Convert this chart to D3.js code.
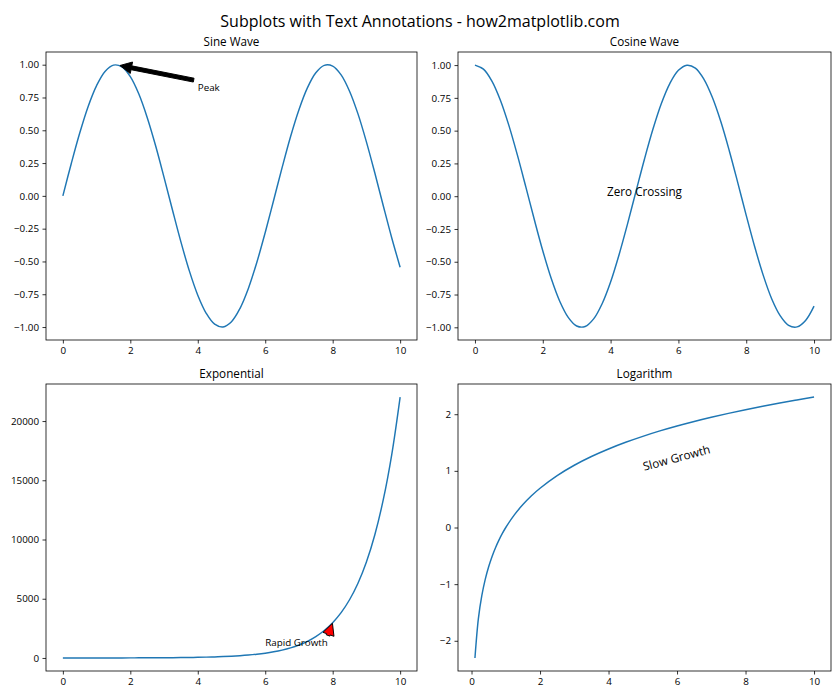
<!DOCTYPE html>
<html><head><meta charset="utf-8">
<script src="https://cdn.jsdelivr.net/npm/d3@7"></script>
<style>
body{margin:0;background:#fff}
svg{display:block}
text{font-family:"Open Sans","Noto Sans",sans-serif;fill:#000}
</style>
</head><body>
<svg id="chart" width="840" height="700"></svg>
<script>
// ---------- data ----------
const suptitle = "Subplots with Text Annotations - how2matplotlib.com";
const titles = ["Sine Wave", "Cosine Wave", "Exponential", "Logarithm"];

const xWave = [0,0.25,0.5,0.75,1,1.25,1.5,1.75,2,2.25,2.5,2.75,3,3.25,3.5,3.75,4,4.25,4.5,4.75,5,
  5.25,5.5,5.75,6,6.25,6.5,6.75,7,7.25,7.5,7.75,8,8.25,8.5,8.75,9,9.25,9.5,9.75,10];
const sineY = [0,0.247,0.479,0.682,0.841,0.949,0.997,0.984,0.909,0.778,0.598,0.382,0.141,-0.108,-0.351,
  -0.572,-0.757,-0.895,-0.978,-0.999,-0.959,-0.859,-0.706,-0.508,-0.279,-0.033,0.215,0.451,0.657,0.823,
  0.938,0.995,0.989,0.922,0.798,0.625,0.412,0.174,-0.075,-0.319,-0.544];
const cosineY = [1,0.969,0.878,0.732,0.540,0.315,0.071,-0.178,-0.416,-0.628,-0.801,-0.924,-0.990,-0.994,
  -0.936,-0.820,-0.654,-0.446,-0.211,0.038,0.284,0.512,0.709,0.861,0.960,0.999,0.977,0.893,0.754,0.569,
  0.347,0.104,-0.146,-0.386,-0.602,-0.782,-0.911,-0.985,-0.997,-0.948,-0.839];
const expY = [1,1.284,1.649,2.117,2.718,3.49,4.482,5.755,7.389,9.488,12.18,15.64,20.09,25.79,33.12,42.52,
  54.6,70.11,90.02,115.6,148.4,190.6,244.7,314.2,403.4,518,665.1,854.1,1096.6,1408.1,1808,2321.6,2981,
  3827.6,4914.8,6310.7,8103.1,10404.6,13359.7,17154.2,22026.5];
const xLog = [0.1,0.2,0.3,0.4,0.5,0.6,0.7,0.8,0.9,1,1.25,1.5,1.75,2,2.5,3,3.5,4,4.5,5,5.5,6,6.5,7,7.5,8,8.5,9,9.5,10];
const logY = [-2.303,-1.609,-1.204,-0.916,-0.693,-0.511,-0.357,-0.223,-0.105,0,0.223,0.405,0.560,0.693,
  0.916,1.099,1.253,1.386,1.504,1.609,1.705,1.792,1.872,1.946,2.015,2.079,2.140,2.197,2.251,2.303];

const xTicks = [0,2,4,6,8,10];
const waveTicks = [-1,-0.75,-0.5,-0.25,0,0.25,0.5,0.75,1];
const expTicks = [0,5000,10000,15000,20000];
const logTicks = [-2,-1,0,1,2];

// annotations (data coordinates)
const peakText = {label:"Peak", at:[4,0.8], target:[1.5708,1]};
const zeroText = {label:"Zero Crossing", at:[5,0]};
const rapidText = {label:"Rapid Growth", at:[6,1000], target:[8,2981]};
const slowText = {label:"Slow Growth", at:[5,1], rotation:15};

// ---------- layout ----------
const boxes = [
  {x0:46, x1:417, y0:52, y1:340},
  {x0:458, x1:831, y0:52, y1:340},
  {x0:46, x1:417, y0:384, y1:671},
  {x0:458, x1:831, y0:384, y1:671}
];
const BLUE = "#1f77b4";
const svg = d3.select("#chart");
const minus = s => s.replace(/-/g, "\u2212");

svg.append("text").attr("x", 420).attr("y", 27).attr("text-anchor","middle")
  .style("font-size","16px").text(suptitle);

function panel(i, xs, ys, yTicks, yFmt) {
  const b = boxes[i];
  const xe = d3.extent(xs), ye = d3.extent(ys);
  const xp = (xe[1]-xe[0])*0.05, yp = (ye[1]-ye[0])*0.05;
  const x = d3.scaleLinear().domain([xe[0]-xp, xe[1]+xp]).range([b.x0, b.x1]);
  const y = d3.scaleLinear().domain([ye[0]-yp, ye[1]+yp]).range([b.y1, b.y0]);
  const g = svg.append("g");
  const line = d3.line().x((d,k)=>x(xs[k])).y((d,k)=>y(ys[k])).curve(d3.curveCatmullRom.alpha(0.5));
  g.append("path").datum(ys).attr("d", line).attr("fill","none")
    .attr("stroke", BLUE).attr("stroke-width", 1.46).attr("stroke-linejoin","round");

  const ax = g.append("g").attr("transform", `translate(0,${b.y1})`)
    .call(d3.axisBottom(x).tickValues(xTicks).tickSize(3.5).tickPadding(3.5).tickFormat(d3.format("d")));
  const ay = g.append("g").attr("transform", `translate(${b.x0},0)`)
    .call(d3.axisLeft(y).tickValues(yTicks).tickSize(3.5).tickPadding(3.5).tickFormat(d => minus(yFmt(d))));
  [ax, ay].forEach(a => {
    a.select(".domain").remove();
    a.attr("font-family", null).attr("font-size", null);
    a.selectAll("text").style("font-size","9.8px").attr("fill","#000");
    a.selectAll("line").attr("stroke","#000").attr("stroke-width",0.8);
  });
  g.append("rect").attr("x", b.x0).attr("y", b.y0).attr("width", b.x1-b.x0).attr("height", b.y1-b.y0)
    .attr("fill","none").attr("stroke","#000").attr("stroke-width",0.8);
  g.append("text").attr("x", (b.x0+b.x1)/2).attr("y", b.y0-6).attr("text-anchor","middle")
    .style("font-size","11.7px").text(titles[i]);
  return {x, y, g};
}

function arrow(g, sx, sy, tx, ty, fill) {
  const r = Math.hypot(tx-sx, ty-sy);
  const ux = (tx-sx)/r, uy = (ty-sy)/r;
  const sh = 0.05*r;
  const ax = sx+ux*sh, ay = sy+uy*sh, bx = tx-ux*sh, by = ty-uy*sh;
  const L = Math.hypot(bx-ax, by-ay);
  const hl = Math.min(11.7, L), hw = 5.85, tw = 1.95;
  const nx = -uy, ny = ux;
  const cx = bx-ux*hl, cy = by-uy*hl;
  const pts = [
    [ax+nx*tw, ay+ny*tw], [cx+nx*tw, cy+ny*tw], [cx+nx*hw, cy+ny*hw], [bx, by],
    [cx-nx*hw, cy-ny*hw], [cx-nx*tw, cy-ny*tw], [ax-nx*tw, ay-ny*tw]
  ];
  g.append("path").attr("d", "M" + pts.map(p=>p.join(",")).join("L") + "Z")
    .attr("fill", fill).attr("stroke","#000").attr("stroke-width",0.97).attr("stroke-linejoin","miter");
}

function annotate(p, a, fontSize, fill) {
  const t = p.g.append("text").attr("x", p.x(a.at[0])).attr("y", p.y(a.at[1]))
    .style("font-size", fontSize).text(a.label);
  const bb = t.node().getBBox();
  const tx = p.x(a.target[0]), ty = p.y(a.target[1]);
  const cands = (lo, hi, v) => [lo, (lo+hi)/2, hi].reduce((m, c) => Math.abs(c-v) < Math.abs(m-v) ? c : m);
  const sx = cands(bb.x, bb.x+bb.width, tx), sy = cands(bb.y, bb.y+bb.height, ty);
  const ag = p.g.insert("g", () => t.node());
  arrow(ag, sx, sy, tx, ty, fill);
}

// ---------- panels ----------
const p1 = panel(0, xWave, sineY, waveTicks, d3.format(".2f"));
annotate(p1, peakText, "9.8px", "#000");

const p2 = panel(1, xWave, cosineY, waveTicks, d3.format(".2f"));
p2.g.append("text").attr("x", p2.x(zeroText.at[0])).attr("y", p2.y(zeroText.at[1]))
  .attr("text-anchor","middle").style("font-size","11.7px").text(zeroText.label);

const p3 = panel(2, xWave, expY, expTicks, d3.format("d"));
annotate(p3, rapidText, "9.8px", "#ff0000");

const p4 = panel(3, xLog, logY, logTicks, d3.format("d"));
{
  const px = p4.x(slowText.at[0]), py = p4.y(slowText.at[1]);
  const t = p4.g.append("text").style("font-size","11.7px").text(slowText.label);
  const bb = t.node().getBBox();
  const ang = slowText.rotation*Math.PI/180;
  const dx = -bb.y*Math.sin(ang) - 2; // shift so rotated box left edge is at anchor
  t.attr("transform", `translate(${px+dx},${py}) rotate(${-slowText.rotation})`);
}
</script>
</body></html>
